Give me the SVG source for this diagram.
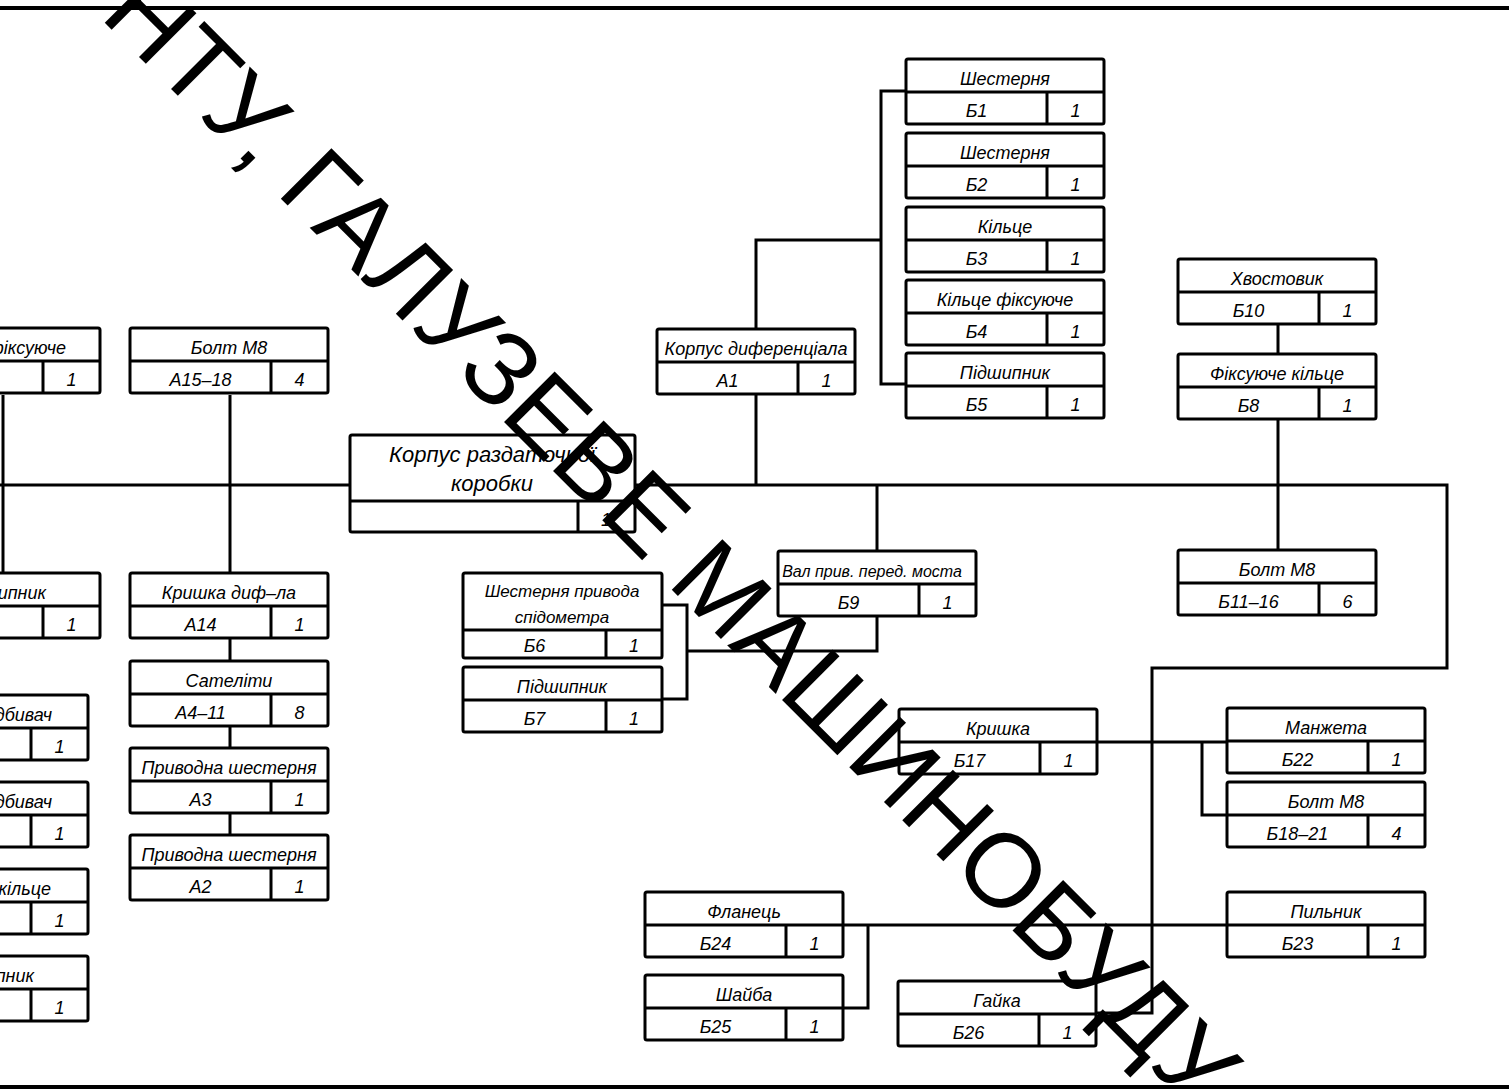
<svg xmlns="http://www.w3.org/2000/svg" width="1509" height="1090" viewBox="0 0 1509 1090">
<style>
.box{fill:#fff;stroke:#000;stroke-width:3}
.ln{fill:none;stroke:#000;stroke-width:3}
.fr{fill:none;stroke:#000;stroke-width:4}
.t{font-family:"Liberation Sans",Arial,sans-serif;font-style:italic;font-size:18px;text-anchor:middle;fill:#000}
.e{text-anchor:end}
.wm{font-family:"Liberation Sans",Arial,sans-serif;font-size:104px;fill:#000}
</style>
<rect width="1509" height="1090" fill="#fff"/>
<g id="frame">
<path class="fr" d="M0,8 H1509 M0,1087 H1509"/>
</g>
<g id="connectors">
<path class="ln" d="M0,485 H350 M635,485 H1447 V668 H1152 V1013 H1096"/>
<path class="ln" d="M230,395 V573 M230,639 V661 M230,727 V748 M230,813 V835"/>
<path class="ln" d="M3,395 V573"/>
<path class="ln" d="M756,395 V485 M756,329 V240 H881 M906,91 H881 V384 H906"/>
<path class="ln" d="M877,485 V551 M877,615 V651 H687 M662,605 H687 V699 H662"/>
<path class="ln" d="M1278,323 V354 M1278,418 V550"/>
<path class="ln" d="M1096,742 H1227 M1202,742 V815 H1227"/>
<path class="ln" d="M843,925 H1227 M868,925 V1008 H843"/>
</g>
<g id="n-L1"><rect class="box" x="-98" y="328" width="198" height="65" rx="2"/><path class="ln" d="M-98,361 H100 M43,361 V393"/><text class="t e" x="66" y="354">фіксуюче</text><text class="t" x="71.5" y="386">1</text></g>
<g id="n-L2"><rect class="box" x="-98" y="573" width="198" height="65" rx="2"/><path class="ln" d="M-98,606 H100 M43,606 V638"/><text class="t e" x="46" y="599">шипник</text><text class="t" x="71.5" y="631">1</text></g>
<g id="n-L3"><rect class="box" x="-110" y="695" width="198" height="65" rx="2"/><path class="ln" d="M-110,728 H88 M31,728 V760"/><text class="t e" x="52" y="721">дбивач</text><text class="t" x="59.5" y="753">1</text></g>
<g id="n-L4"><rect class="box" x="-110" y="782" width="198" height="65" rx="2"/><path class="ln" d="M-110,815 H88 M31,815 V847"/><text class="t e" x="52" y="808">дбивач</text><text class="t" x="59.5" y="840">1</text></g>
<g id="n-L5"><rect class="box" x="-110" y="869" width="198" height="65" rx="2"/><path class="ln" d="M-110,902 H88 M31,902 V934"/><text class="t e" x="51" y="895">кільце</text><text class="t" x="59.5" y="927">1</text></g>
<g id="n-L6"><rect class="box" x="-110" y="956" width="198" height="65" rx="2"/><path class="ln" d="M-110,989 H88 M31,989 V1021"/><text class="t e" x="34" y="982">шипник</text><text class="t" x="59.5" y="1014">1</text></g>
<g id="n-A15"><rect class="box" x="130" y="328" width="198" height="65" rx="2"/><path class="ln" d="M130,361 H328 M271,361 V393"/><text class="t" x="229" y="354">Болт М8</text><text class="t" x="200.5" y="386">А15–18</text><text class="t" x="299.5" y="386">4</text></g>
<g id="n-A14"><rect class="box" x="130" y="573" width="198" height="65" rx="2"/><path class="ln" d="M130,606 H328 M271,606 V638"/><text class="t" x="229" y="599">Кришка диф–ла</text><text class="t" x="200.5" y="631">А14</text><text class="t" x="299.5" y="631">1</text></g>
<g id="n-A4"><rect class="box" x="130" y="661" width="198" height="65" rx="2"/><path class="ln" d="M130,694 H328 M271,694 V726"/><text class="t" x="229" y="687">Сателіти</text><text class="t" x="200.5" y="719">А4–11</text><text class="t" x="299.5" y="719">8</text></g>
<g id="n-A3"><rect class="box" x="130" y="748" width="198" height="65" rx="2"/><path class="ln" d="M130,781 H328 M271,781 V813"/><text class="t" x="229" y="774">Приводна шестерня</text><text class="t" x="200.5" y="806">А3</text><text class="t" x="299.5" y="806">1</text></g>
<g id="n-A2"><rect class="box" x="130" y="835" width="198" height="65" rx="2"/><path class="ln" d="M130,868 H328 M271,868 V900"/><text class="t" x="229" y="861">Приводна шестерня</text><text class="t" x="200.5" y="893">А2</text><text class="t" x="299.5" y="893">1</text></g>
<g id="n-root"><rect class="box" x="350" y="435" width="285" height="97" rx="2"/><path class="ln" d="M350,501 H635 M578,501 V532"/><text class="t" style="font-size:22px" x="492" y="462">Корпус раздаточної</text><text class="t" style="font-size:22px" x="492" y="491">коробки</text><text class="t" x="606" y="526">1</text></g>
<g id="n-A1"><rect class="box" x="657" y="329" width="198" height="65" rx="2"/><path class="ln" d="M657,362 H855 M798,362 V394"/><text class="t" x="756" y="355">Корпус диференціала</text><text class="t" x="727.5" y="387">А1</text><text class="t" x="826.5" y="387">1</text></g>
<g id="n-B1"><rect class="box" x="906" y="59" width="198" height="65" rx="2"/><path class="ln" d="M906,92 H1104 M1047,92 V124"/><text class="t" x="1005" y="85">Шестерня</text><text class="t" x="976.5" y="117">Б1</text><text class="t" x="1075.5" y="117">1</text></g>
<g id="n-B2"><rect class="box" x="906" y="133" width="198" height="65" rx="2"/><path class="ln" d="M906,166 H1104 M1047,166 V198"/><text class="t" x="1005" y="159">Шестерня</text><text class="t" x="976.5" y="191">Б2</text><text class="t" x="1075.5" y="191">1</text></g>
<g id="n-B3"><rect class="box" x="906" y="207" width="198" height="65" rx="2"/><path class="ln" d="M906,240 H1104 M1047,240 V272"/><text class="t" x="1005" y="233">Кільце</text><text class="t" x="976.5" y="265">Б3</text><text class="t" x="1075.5" y="265">1</text></g>
<g id="n-B4"><rect class="box" x="906" y="280" width="198" height="65" rx="2"/><path class="ln" d="M906,313 H1104 M1047,313 V345"/><text class="t" x="1005" y="306">Кільце фіксуюче</text><text class="t" x="976.5" y="338">Б4</text><text class="t" x="1075.5" y="338">1</text></g>
<g id="n-B5"><rect class="box" x="906" y="353" width="198" height="65" rx="2"/><path class="ln" d="M906,386 H1104 M1047,386 V418"/><text class="t" x="1005" y="379">Підшипник</text><text class="t" x="976.5" y="411">Б5</text><text class="t" x="1075.5" y="411">1</text></g>
<g id="n-B10"><rect class="box" x="1178" y="259" width="198" height="65" rx="2"/><path class="ln" d="M1178,292 H1376 M1319,292 V324"/><text class="t" x="1277" y="285">Хвостовик</text><text class="t" x="1248.5" y="317">Б10</text><text class="t" x="1347.5" y="317">1</text></g>
<g id="n-B8"><rect class="box" x="1178" y="354" width="198" height="65" rx="2"/><path class="ln" d="M1178,387 H1376 M1319,387 V419"/><text class="t" x="1277" y="380">Фіксуюче кільце</text><text class="t" x="1248.5" y="412">Б8</text><text class="t" x="1347.5" y="412">1</text></g>
<g id="n-B11"><rect class="box" x="1178" y="550" width="198" height="65" rx="2"/><path class="ln" d="M1178,583 H1376 M1319,583 V615"/><text class="t" x="1277" y="576">Болт М8</text><text class="t" x="1248.5" y="608">Б11–16</text><text class="t" x="1347.5" y="608">6</text></g>
<g id="n-B9"><rect class="box" x="778" y="551" width="198" height="65" rx="2"/><path class="ln" d="M778,584 H976 M919,584 V616"/><text class="t" style="font-size:16px" x="872" y="577">Вал прив. перед. моста</text><text class="t" x="848.5" y="609">Б9</text><text class="t" x="947.5" y="609">1</text></g>
<g id="n-B6"><rect class="box" x="463" y="573" width="199" height="85" rx="2"/><path class="ln" d="M463,630 H662 M606,630 V658"/><text class="t" style="font-size:17px" x="562" y="597">Шестерня привода</text><text class="t" style="font-size:17px" x="562" y="623">спідометра</text><text class="t" x="534.5" y="652">Б6</text><text class="t" x="634" y="652">1</text></g>
<g id="n-B7"><rect class="box" x="463" y="667" width="199" height="65" rx="2"/><path class="ln" d="M463,700 H662 M606,700 V732"/><text class="t" x="562" y="693">Підшипник</text><text class="t" x="534.5" y="725">Б7</text><text class="t" x="634" y="725">1</text></g>
<g id="n-B17"><rect class="box" x="899" y="709" width="198" height="65" rx="2"/><path class="ln" d="M899,742 H1097 M1040,742 V774"/><text class="t" x="998" y="735">Кришка</text><text class="t" x="969.5" y="767">Б17</text><text class="t" x="1068.5" y="767">1</text></g>
<g id="n-B22"><rect class="box" x="1227" y="708" width="198" height="65" rx="2"/><path class="ln" d="M1227,741 H1425 M1368,741 V773"/><text class="t" x="1326" y="734">Манжета</text><text class="t" x="1297.5" y="766">Б22</text><text class="t" x="1396.5" y="766">1</text></g>
<g id="n-B18"><rect class="box" x="1227" y="782" width="198" height="65" rx="2"/><path class="ln" d="M1227,815 H1425 M1368,815 V847"/><text class="t" x="1326" y="808">Болт М8</text><text class="t" x="1297.5" y="840">Б18–21</text><text class="t" x="1396.5" y="840">4</text></g>
<g id="n-B23"><rect class="box" x="1227" y="892" width="198" height="65" rx="2"/><path class="ln" d="M1227,925 H1425 M1368,925 V957"/><text class="t" x="1326" y="918">Пильник</text><text class="t" x="1297.5" y="950">Б23</text><text class="t" x="1396.5" y="950">1</text></g>
<g id="n-B24"><rect class="box" x="645" y="892" width="198" height="65" rx="2"/><path class="ln" d="M645,925 H843 M786,925 V957"/><text class="t" x="744" y="918">Фланець</text><text class="t" x="715.5" y="950">Б24</text><text class="t" x="814.5" y="950">1</text></g>
<g id="n-B25"><rect class="box" x="645" y="975" width="198" height="65" rx="2"/><path class="ln" d="M645,1008 H843 M786,1008 V1040"/><text class="t" x="744" y="1001">Шайба</text><text class="t" x="715.5" y="1033">Б25</text><text class="t" x="814.5" y="1033">1</text></g>
<g id="n-B26"><rect class="box" x="898" y="981" width="198" height="65" rx="2"/><path class="ln" d="M898,1014 H1096 M1039,1014 V1046"/><text class="t" x="997" y="1007">Гайка</text><text class="t" x="968.5" y="1039">Б26</text><text class="t" x="1067.5" y="1039">1</text></g>
<g id="watermark"><text class="wm" transform="translate(282,200) rotate(45)" x="-259" y="0">НТУ, ГАЛУЗЕВЕ МАШИНОБУДУ</text></g>
</svg>
